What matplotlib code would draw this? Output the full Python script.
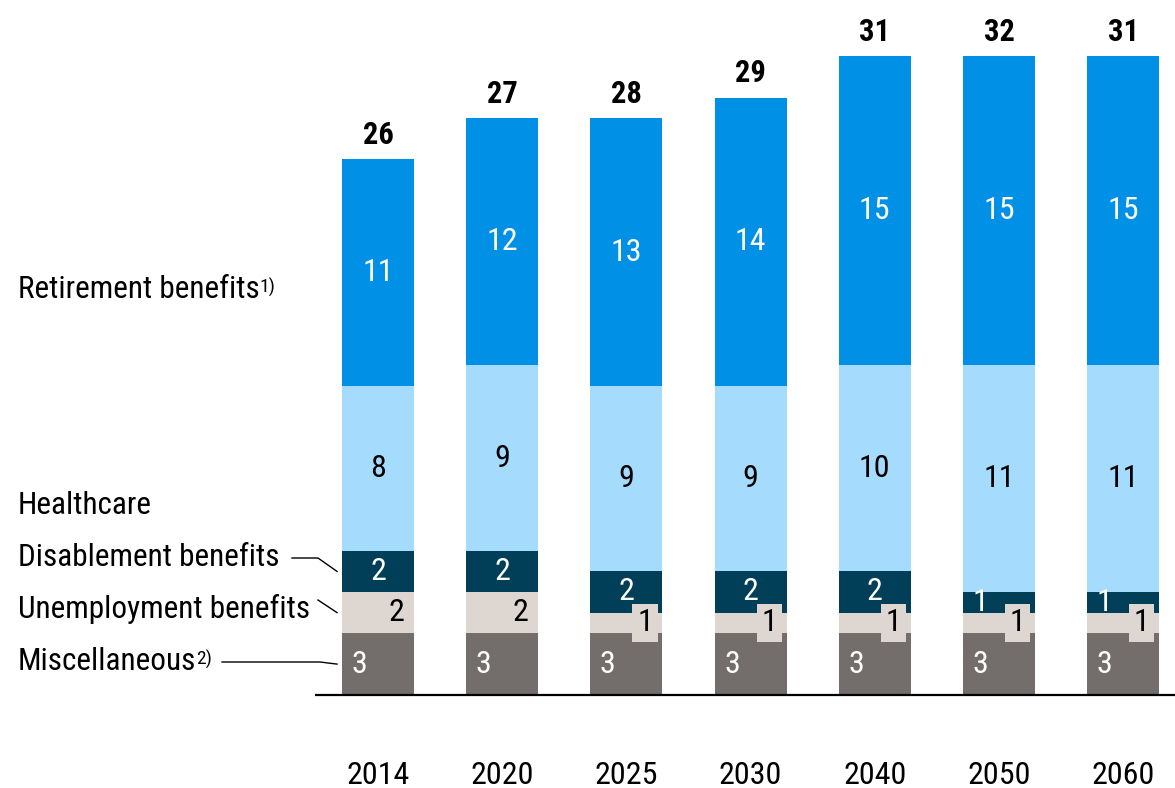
import matplotlib
matplotlib.use("Agg")
import matplotlib.pyplot as plt
from matplotlib import font_manager

# social spending by category, per year (rounded values)
years = ['2014', '2020', '2025', '2030', '2040', '2050', '2060']
retirement = [11, 12, 13, 14, 15, 15, 15]
healthcare = [8, 9, 9, 9, 10, 11, 11]
disablement = [2, 2, 2, 2, 2, 1, 1]
unemployment = [2, 2, 1, 1, 1, 1, 1]
misc = [3, 3, 3, 3, 3, 3, 3]
totals = [26, 27, 28, 29, 31, 32, 31]

installed = {f.name for f in font_manager.fontManager.ttflist}
FONT = 'DejaVu Sans'
for fam in ['Liberation Sans Narrow', 'Roboto Condensed', 'Liberation Sans']:
    if fam in installed:
        FONT = fam
        break
plt.rcParams['font.family'] = [FONT, 'DejaVu Sans']

C_RET = '#0090e6'
C_HEALTH = '#a5dbfd'
C_DIS = '#003f57'
C_UNEMP = '#ded6d0'
C_MISC = '#736e6b'

W, H = 1175, 788
X0, DX = 378, 124.2      # pixel centre of first bar, spacing
Y0, DY = 695, 20.6       # baseline pixel row, pixels per unit


def px_x(p):
    return (p - X0) / DX


def px_y(p):
    return (Y0 - p) / DY


fig = plt.figure(figsize=(W / 100, H / 100), dpi=100)
ax = fig.add_axes([0, 0, 1, 1])
ax.set_xlim(px_x(0), px_x(W))
ax.set_ylim(px_y(H), px_y(0))
ax.axis('off')

x = list(range(len(years)))
bw = 0.58
layers = [(misc, C_MISC), (unemployment, C_UNEMP), (disablement, C_DIS),
          (healthcare, C_HEALTH), (retirement, C_RET)]
bottom = [0] * len(years)
bottoms = []
for vals, col in layers:
    ax.bar(x, vals, width=bw, bottom=bottom, color=col, linewidth=0, zorder=2)
    bottoms.append(list(bottom))
    bottom = [b + v for b, v in zip(bottom, vals)]

fs = 23
for i in x:
    b_misc, b_un, b_dis, b_hc, b_ret = [bb[i] for bb in bottoms]
    ax.text(i, b_ret + retirement[i] / 2, str(retirement[i]), color='white',
            fontsize=fs, ha='center', va='center', zorder=4)
    ax.text(i, b_hc + healthcare[i] / 2, str(healthcare[i]), color='black',
            fontsize=fs, ha='center', va='center', zorder=4)
    dshift = -0.15 if disablement[i] == 1 else 0
    ax.text(i + dshift, b_dis + disablement[i] / 2, str(disablement[i]),
            color='white', fontsize=fs, ha='center', va='center', zorder=4)
    ax.text(i + 0.15, b_un + unemployment[i] / 2, str(unemployment[i]),
            color='black', fontsize=fs, ha='center', va='center', zorder=4,
            bbox=dict(boxstyle='square,pad=0.15', fc=C_UNEMP, ec='none'))
    ax.text(i - 0.15, b_misc + misc[i] / 2, str(misc[i]), color='white',
            fontsize=fs, ha='center', va='center', zorder=4,
            bbox=dict(boxstyle='square,pad=0.15', fc=C_MISC, ec='none'))
    ax.text(i, bottom[i] + 0.45, str(totals[i]), fontsize=fs - 1,
            fontweight='bold', ha='center', va='bottom', zorder=4)
    ax.text(i, px_y(775), years[i], fontsize=fs, ha='center', va='center')

# baseline
ax.plot([px_x(315), px_x(W)], [0, 0], color='black', lw=1.6, zorder=3,
        solid_capstyle='butt')

# category names on the left
names = [('Retirement benefits', '1)', 290), ('Healthcare', None, 506),
         ('Disablement benefits', None, 558), ('Unemployment benefits', None, 609),
         ('Miscellaneous', '2)', 662)]
for name, note, py in names:
    t = ax.text(px_x(18), px_y(py), name, fontsize=22.5, ha='left', va='center')
    if note:
        ax.annotate(note, xy=(1.0, 0.92), xycoords=t, fontsize=14,
                    ha='left', va='top')

# leader lines into the 2014 bar
edge = -bw / 2 - 0.04
lk = dict(color='black', lw=1.0, clip_on=False, zorder=3)
ax.plot([px_x(292), px_x(318), edge],
        [px_y(558), px_y(558), bottoms[2][0] + disablement[0] / 2], **lk)
ax.plot([px_x(318), edge],
        [px_y(600), bottoms[1][0] + unemployment[0] / 2], **lk)
ax.plot([px_x(222), px_x(320), edge],
        [px_y(662), px_y(662), bottoms[0][0] + misc[0] / 2], **lk)

fig.savefig('out.png', dpi=100, facecolor='white')
